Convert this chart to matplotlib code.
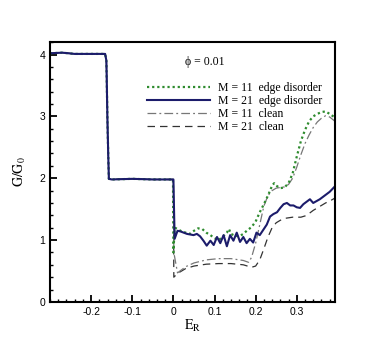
import numpy as np
import matplotlib.pyplot as plt
from matplotlib.ticker import MultipleLocator

plt.rcParams['mathtext.fontset'] = 'stix'

# ---- data ----
# steps shared by all four curves (E_R < 0)
e_step = [-0.30, -0.27, -0.24, -0.20, -0.166, -0.163, -0.160, -0.157, -0.15, -0.10, -0.05, -0.001]
g_step = [4.02, 4.03, 4.01, 4.01, 4.01, 3.90, 2.80, 1.99, 1.98, 1.99, 1.98, 1.98]

# M = 11 edge disorder
e_m11_dis = [0.0, 0.003, 0.01, 0.02, 0.03, 0.04, 0.05, 0.06, 0.07, 0.08, 0.09, 0.10, 0.11,
             0.12, 0.13, 0.135, 0.14, 0.15, 0.16, 0.17, 0.18, 0.19, 0.20, 0.21, 0.22, 0.23,
             0.24, 0.245, 0.25, 0.26, 0.27, 0.28, 0.29, 0.30, 0.31, 0.32, 0.33, 0.34, 0.35,
             0.36, 0.37, 0.38, 0.393]
g_m11_dis = [0.80, 1.20, 1.18, 1.14, 1.12, 1.10, 1.15, 1.19, 1.18, 1.12, 1.08, 1.03, 1.00,
             1.05, 1.12, 1.18, 1.10, 1.07, 1.06, 1.10, 1.16, 1.21, 1.30, 1.45, 1.58, 1.72,
             1.88, 1.92, 1.88, 1.84, 1.85, 1.92, 2.08, 2.35, 2.60, 2.78, 2.92, 3.00, 3.04,
             3.07, 3.08, 3.04, 2.98]

# M = 21 edge disorder
e_m21_dis = [0.0, 0.003, 0.01, 0.017, 0.025, 0.033, 0.041, 0.049, 0.057, 0.065, 0.073,
             0.081, 0.090, 0.098, 0.106, 0.114, 0.122, 0.130, 0.138, 0.146, 0.154, 0.162,
             0.170, 0.178, 0.186, 0.194, 0.202, 0.210, 0.218, 0.227, 0.235, 0.243, 0.252,
             0.260, 0.268, 0.276, 0.284, 0.292, 0.300, 0.308, 0.316, 0.324, 0.332, 0.340,
             0.348, 0.356, 0.364, 0.372, 0.380, 0.393]
g_m21_dis = [1.98, 1.02, 1.15, 1.14, 1.12, 1.10, 1.09, 1.08, 1.10, 1.06, 0.99,
             0.91, 0.99, 0.92, 1.05, 0.95, 1.08, 0.90, 1.08, 0.99, 1.12, 0.97,
             1.05, 0.95, 1.02, 0.96, 1.12, 1.08, 1.16, 1.25, 1.38, 1.42, 1.45,
             1.52, 1.58, 1.60, 1.56, 1.56, 1.53, 1.52, 1.58, 1.62, 1.66, 1.60,
             1.63, 1.66, 1.70, 1.74, 1.78, 1.87]

# M = 11 clean
e_m11_cl = [0.0, 0.001, 0.01, 0.03, 0.05, 0.08, 0.11, 0.14, 0.17, 0.183, 0.19, 0.20,
            0.21, 0.22, 0.23, 0.24, 0.25, 0.26, 0.27, 0.28, 0.29, 0.30, 0.31, 0.32,
            0.33, 0.34, 0.35, 0.36, 0.37, 0.38, 0.393]
g_m11_cl = [1.98, 0.80, 0.47, 0.57, 0.63, 0.68, 0.70, 0.70, 0.67, 0.64, 0.72, 0.95,
            1.25, 1.55, 1.72, 1.80, 1.84, 1.85, 1.86, 1.90, 2.00, 2.18, 2.38, 2.56,
            2.70, 2.82, 2.91, 2.97, 3.01, 2.99, 2.92]

# M = 21 clean
e_m21_cl = [0.0, 0.001, 0.01, 0.03, 0.05, 0.08, 0.11, 0.14, 0.17, 0.19, 0.20, 0.21,
            0.22, 0.23, 0.24, 0.25, 0.26, 0.27, 0.28, 0.29, 0.30, 0.31, 0.32, 0.33,
            0.34, 0.35, 0.36, 0.37, 0.38, 0.393]
g_m21_cl = [1.98, 0.40, 0.46, 0.54, 0.58, 0.61, 0.62, 0.62, 0.60, 0.56, 0.58, 0.68,
            0.86, 1.05, 1.20, 1.28, 1.32, 1.35, 1.36, 1.37, 1.37, 1.37, 1.39, 1.43,
            1.48, 1.52, 1.56, 1.60, 1.63, 1.68]

labels = ["M = 11  edge disorder", "M = 21  edge disorder",
          "M = 11  clean", "M = 21  clean"]

# ---- plot ----
fig = plt.figure(figsize=(3.82, 3.40), dpi=100)
ax = fig.add_axes([0.131, 0.112, 0.746, 0.764])

def full(e, g):
    return np.concatenate([e_step, e]), np.concatenate([g_step, g])

x, y = full(e_m21_cl, g_m21_cl)
ax.plot(x, y, color='#333333', lw=0.9, ls=(0, (6, 4)), label=labels[3])
x, y = full(e_m11_cl, g_m11_cl)
ax.plot(x, y, color='#777777', lw=0.9, ls=(0, (7, 2.5, 1.5, 2.5)), label=labels[2])
x, y = full(e_m11_dis, g_m11_dis)
ax.plot(x, y, color='#2e8b2e', lw=1.6, ls=(0, (1, 1.3)), label=labels[0])
x, y = full(e_m21_dis, g_m21_dis)
ax.plot(x, y, color='#1c1c6b', lw=1.5, label=labels[1])

ax.set_xlim(-0.30, 0.393)
ax.set_ylim(0, 4.2)
ax.xaxis.set_major_locator(MultipleLocator(0.1))
ax.xaxis.set_minor_locator(MultipleLocator(0.02))
ax.yaxis.set_major_locator(MultipleLocator(1))
ax.yaxis.set_minor_locator(MultipleLocator(0.2))
ax.set_xticks([-0.2, -0.1, 0, 0.1, 0.2, 0.3])
ax.set_xticklabels(['-0.2', '-0.1', '0', '0.1', '0.2', '0.3'])
ax.tick_params(which='both', direction='in', top=False, right=False,
               labelsize=7.5, width=1.0)
ax.tick_params(which='major', length=5, width=1.3)
ax.tick_params(which='minor', length=2.5)
for lab in ax.get_xticklabels() + ax.get_yticklabels():
    lab.set_family('Liberation Sans')
for s in ax.spines.values():
    s.set_linewidth(1.5)

ax.set_xlabel(r'$\mathrm{E_R}$', fontsize=10, labelpad=1)
ax.set_ylabel(r'$\mathrm{G/G_0}$', fontsize=10, labelpad=8)

ax.text(0.544, 0.923, 'ϕ = 0.01', transform=ax.transAxes, ha='center', va='center',
        family='Liberation Serif', fontsize=8.5)

h, l = ax.get_legend_handles_labels()
order = [2, 3, 1, 0]
ax.legend([h[i] for i in order], [l[i] for i in order], loc='upper left',
          bbox_to_anchor=(0.34, 0.845), frameon=False, borderpad=0, borderaxespad=0,
          handlelength=5.3, handletextpad=0.7, labelspacing=0.08,
          prop={'family': 'Liberation Serif', 'size': 8.5})

fig.savefig('out.png', dpi=100)
